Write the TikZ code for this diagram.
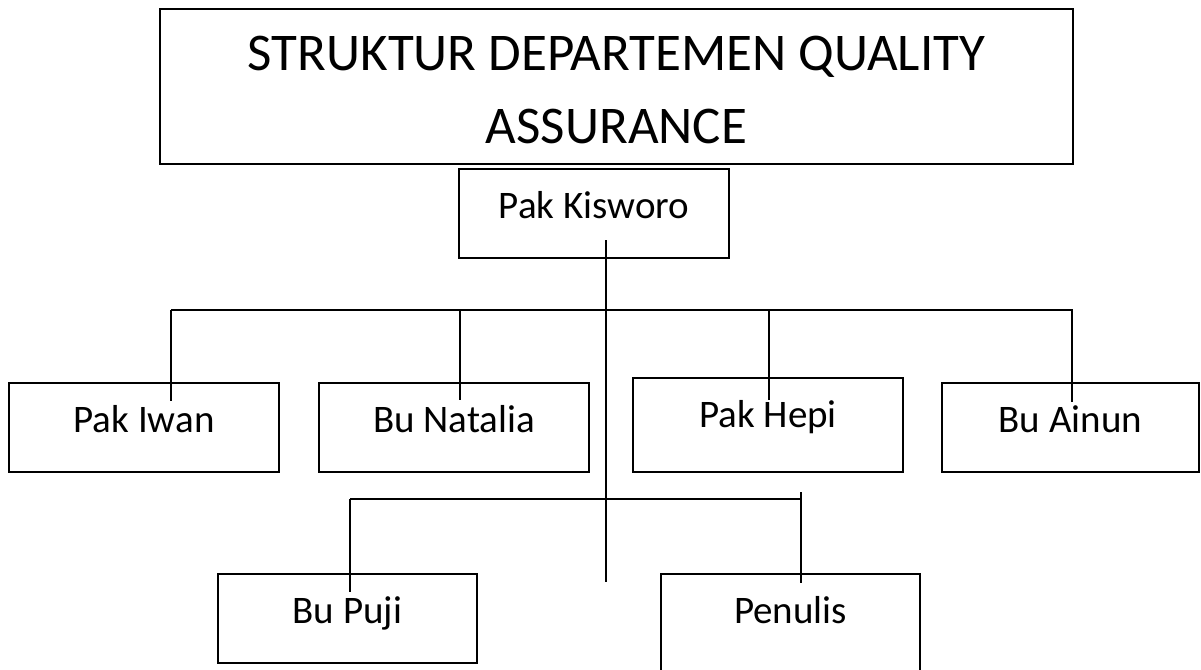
\documentclass[tikz,border=0pt]{standalone}
\usepackage{fontspec}
\setmainfont{Carlito}
\usetikzlibrary{positioning,calc}

\begin{document}
\begin{tikzpicture}[
  x=0.5pt,y=-0.5pt,
  judulbox/.style={rectangle,draw,line width=1pt,minimum width=456.5pt,minimum height=77.5pt,align=center,font=\fontsize{26.5pt}{36.5pt}\selectfont},
  person/.style={rectangle,draw,line width=1pt,minimum width=135pt,minimum height=44.5pt,inner sep=0pt,font=\fontsize{19.5pt}{23pt}\selectfont,text height=12.5pt,text depth=7.5pt},
  link/.style={draw,line width=1pt}
]
\useasboundingbox (0,0) rectangle (1201,670);
\node[judulbox] (judul) at (616.5,86.5) {\rule{0pt}{21pt}STRUKTUR DEPARTEMEN QUALITY\\ASSURANCE};
\node[person] (kisworo) at (594,213.5) {Pak Kisworo};
\node[person] (iwan) at (144,427) {Pak Iwan};
\node[person] (natalia) at (454,427) {Bu Natalia};
\node[person,minimum height=47pt,text depth=10pt] (hepi) at (768,425) {Pak Hepi};
\node[person,minimum width=128.5pt] (ainun) at (1070.5,427) {Bu Ainun};
\node[person,minimum width=129.5pt] (puji) at (347.5,618.5) {Bu Puji};
\node[person,minimum width=129.5pt,minimum height=55pt,text depth=18.5pt] (penulis) at (790.5,629) {Penulis};
% garis tengah
\coordinate (trunkatas) at ($(kisworo.south)+(12,-19)$);
\coordinate (trunkbawah) at (606,582);
\draw[link] (trunkatas) -- (trunkbawah);
% cabang pertama
\coordinate (bus1kiri) at (171,310);
\coordinate (bus1kanan) at (1073,310);
\draw[link] (bus1kiri) -- (bus1kanan);
\foreach \nama/\px/\turun in {iwan/171/19,natalia/460/18,hepi/769/23,ainun/1072/20}
  \draw[link] (\px,310) -- ($(\nama.north -| \px,0)+(0,\turun)$);
% cabang kedua
\coordinate (bus2kiri) at (350,499);
\coordinate (bus2kanan) at (801,499);
\draw[link] (bus2kiri) -- (bus2kanan);
\draw[link] (bus2kiri) -- ($(puji.north -| bus2kiri)+(0,19)$);
\draw[link] ($(bus2kanan)+(0,-7)$) -- ($(penulis.north -| bus2kanan)+(0,10)$);
\end{tikzpicture}
\end{document}
